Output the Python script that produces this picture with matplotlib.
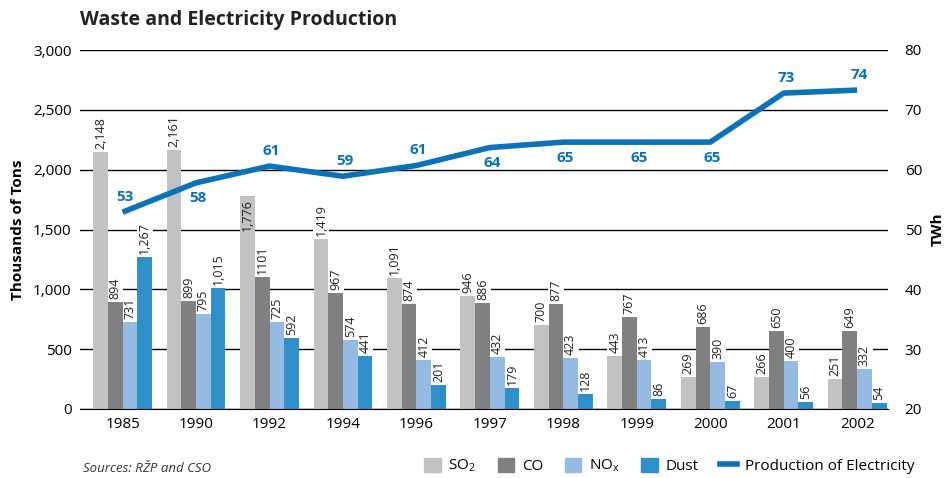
import numpy as np
import matplotlib
matplotlib.use('Agg')
from matplotlib import pyplot as plt
from matplotlib.patches import Patch
from matplotlib.lines import Line2D

plt.rcParams['font.family'] = ['Open Sans', 'DejaVu Sans']
plt.rcParams['mathtext.default'] = 'regular'

years = ['1985', '1990', '1992', '1994', '1996', '1997', '1998', '1999', '2000', '2001', '2002']
so2 = [2148, 2161, 1776, 1419, 1091, 946, 700, 443, 269, 266, 251]
co = [894, 899, 1101, 967, 874, 886, 877, 767, 686, 650, 649]
nox = [731, 795, 725, 574, 412, 432, 423, 413, 390, 400, 332]
dust = [1267, 1015, 592, 441, 201, 179, 128, 86, 67, 56, 54]
elec = [52.9, 57.8, 60.6, 58.9, 60.7, 63.7, 64.6, 64.6, 64.6, 72.8, 73.3]
elec_labels = ['53', '58', '61', '59', '61', '64', '65', '65', '65', '73', '74']
elec_label_above = [True, False, True, True, True, False, False, False, False, True, True]

colors = ['#c1c2c4', '#808083', '#95bbe2', '#2f8fc9']
line_color = '#0a72b8'

fig = plt.figure(figsize=(9.45, 4.78), dpi=100)
ax = fig.add_axes([80/945, 1-409/478, 808/945, 359/478])
x = np.arange(len(years))
w = 0.2

series = [so2, co, nox, dust]
for i, vals in enumerate(series):
    pos = x + (i - 1.5) * w
    ax.bar(pos, vals, width=w, color=colors[i], zorder=2)
    for j, (p, v) in enumerate(zip(pos, vals)):
        txt = '{:,}'.format(v)
        if i == 1 and v == 1101:
            txt = '1101'
        # 1992 SO2 label sits inside the bar top, clear of the line
        if i == 0 and years[j] == '1992':
            ax.text(p, v - 25, txt, rotation=90, ha='center', va='top',
                    fontsize=9, color='#222222', zorder=3)
            continue
        ax.text(p, v + 25, txt, rotation=90, ha='center', va='bottom',
                fontsize=9, color='#222222', zorder=1.5,
                bbox=dict(facecolor='white', edgecolor='none', pad=1.2))

ax.set_ylim(0, 3000)
ax.set_xlim(-0.58, 10.42)
ax.set_yticks(range(0, 3001, 500))
ax.set_yticklabels(['{:,}'.format(v) for v in range(0, 3001, 500)], fontsize=11)
ax.set_xticks(x)
ax.set_xticklabels(years, fontsize=11)
ax.tick_params(length=0, pad=6)
ax.grid(axis='y', color='black', linewidth=1)
ax.set_axisbelow(True)
for s in ['top', 'right', 'left']:
    ax.spines[s].set_visible(False)
ax.spines['bottom'].set_color('black')
ax.set_ylabel('Thousands of Tons', fontsize=11, fontweight='bold', labelpad=6)

ax2 = ax.twinx()
ax2.set_ylim(20, 80)
ax2.set_yticks(range(20, 81, 10))
ax2.tick_params(length=0, labelsize=11, pad=12)
for s in ax2.spines.values():
    s.set_visible(False)
ax2.plot(x, elec, color=line_color, linewidth=4, solid_capstyle='butt', zorder=4)
for xi, v, lab, up in zip(x, elec, elec_labels, elec_label_above):
    dy = 2.6 if up else -2.6
    ax2.text(xi + 0.03, v + dy, lab, ha='center', va='center', fontsize=11,
             fontweight='bold', color=line_color, zorder=5)
ax2.set_ylabel('TWh', fontsize=11, fontweight='bold', labelpad=6)

fig.text(80/945, 1-20/478, 'Waste and Electricity Production', fontsize=14,
         fontweight='bold', color='#222222', va='center', ha='left')
fig.text(83/945, 1-468/478, 'Sources: RŽP and CSO', fontsize=9.5, style='italic',
         color='#333333', va='center', ha='left')

handles = [Patch(color=colors[0], label='SO$_2$'),
           Patch(color=colors[1], label='CO'),
           Patch(color=colors[2], label='NO$_x$'),
           Patch(color=colors[3], label='Dust'),
           Line2D([0], [0], color=line_color, linewidth=4, label='Production of Electricity')]
fig.legend(handles=handles, loc='center right', bbox_to_anchor=(928/945, 1-466/478),
           ncol=5, frameon=False, fontsize=11, handlelength=1.1, handleheight=1.1,
           columnspacing=1.4, handletextpad=0.5)

plt.savefig('out.png', dpi=100)
